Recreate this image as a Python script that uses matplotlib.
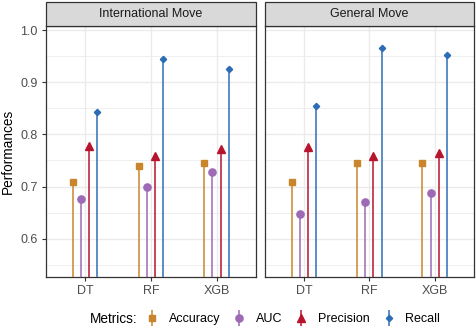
import matplotlib
matplotlib.use("Agg")
import matplotlib.pyplot as plt
from matplotlib.lines import Line2D
from matplotlib.patches import Rectangle
from matplotlib.legend_handler import HandlerTuple
import numpy as np

plt.rcParams['font.family'] = ['Liberation Sans', 'DejaVu Sans']

models = ["DT", "RF", "XGB"]
metrics = ["Accuracy", "AUC", "Precision", "Recall"]
panels = ["International Move", "General Move"]

intl_accuracy = [0.709, 0.739, 0.746]
intl_auc = [0.677, 0.700, 0.728]
intl_precision = [0.777, 0.758, 0.772]
intl_recall = [0.843, 0.945, 0.925]

gen_accuracy = [0.708, 0.745, 0.746]
gen_auc = [0.647, 0.671, 0.688]
gen_precision = [0.776, 0.759, 0.765]
gen_recall = [0.855, 0.965, 0.952]

yticks = [0.6, 0.7, 0.8, 0.9, 1.0]

data = {
    "International Move": [intl_accuracy, intl_auc, intl_precision, intl_recall],
    "General Move": [gen_accuracy, gen_auc, gen_precision, gen_recall],
}

colors = ["#C9852C", "#9D6BB5", "#B7152D", "#2D6DB5"]
markers = ["s", "o", "^", "D"]
msizes = [5.0, 5.2, 6.2, 3.2]
offsets = [-0.1875, -0.0625, 0.0625, 0.1875]

W, H = 477, 331
fig = plt.figure(figsize=(W / 100, H / 100), dpi=100)

panel_px = [(45.7, 256.0), (264.7, 474.0)]
top_px, bot_px = 26.0, 277.0
strip_h = 24.0
ylo, yhi = 0.5266, 1.0077

grid_col = "#EBEBEB"
dark = "#333333"

axes = []
for pi, (name, (x0, x1)) in enumerate(zip(panels, panel_px)):
    ax = fig.add_axes([x0 / W, 1 - bot_px / H, (x1 - x0) / W, (bot_px - top_px) / H])
    axes.append(ax)
    xs = np.arange(len(models))
    for mi, vals in enumerate(data[name]):
        xp = xs + offsets[mi]
        ax.vlines(xp, ylo - 0.1, vals, color=colors[mi], lw=1.1, zorder=3)
        ax.plot(xp, vals, ls="", marker=markers[mi], ms=msizes[mi],
                color=colors[mi], mec=colors[mi], zorder=4)
    ax.set_xlim(-0.6, 2.6)
    ax.set_ylim(ylo, yhi)
    ax.set_xticks(xs)
    ax.set_xticklabels(models)
    ax.set_yticks(yticks)
    ax.set_yticks([0.55, 0.65, 0.75, 0.85, 0.95], minor=True)
    ax.yaxis.grid(True, which="major", color=grid_col, lw=1.0, zorder=0)
    ax.yaxis.grid(True, which="minor", color=grid_col, lw=0.55, zorder=0)
    ax.xaxis.grid(True, which="major", color=grid_col, lw=1.0, zorder=0)
    ax.set_axisbelow(True)
    ax.tick_params(axis="both", which="major", length=3.2, width=0.8, color=dark,
                   labelcolor="#4D4D4D", labelsize=9.0, pad=2.5)
    ax.tick_params(axis="y", which="minor", length=0)
    if pi == 0:
        ax.set_yticklabels([f"{v:.1f}" for v in yticks])
        ax.set_ylabel("Performances", fontsize=9.8, color="black", labelpad=4)
    else:
        ax.tick_params(axis="y", which="both", left=False, labelleft=False)
    for s in ax.spines.values():
        s.set_color(dark)
        s.set_linewidth(0.9)
    # strip
    sh = strip_h / (bot_px - top_px)
    rect = Rectangle((0, 1), 1, sh, transform=ax.transAxes, facecolor="#D9D9D9",
                     edgecolor=dark, lw=0.9, clip_on=False, zorder=5)
    ax.add_patch(rect)
    ax.text(0.5, 1 + sh / 2, name, transform=ax.transAxes, ha="center", va="center",
            fontsize=9.0, color="#1A1A1A", zorder=6)

# legend
handles = []
for mi in range(len(metrics)):
    vline = Line2D([], [], ls="", marker="|", ms=11, mew=1.1, color=colors[mi])
    pt = Line2D([], [], ls="", marker=markers[mi], ms=msizes[mi], color=colors[mi])
    handles.append((vline, pt))
leg = fig.legend(handles, metrics, handler_map={tuple: HandlerTuple(ndivide=1, pad=0)},
                 ncol=4, loc="center", bbox_to_anchor=(293 / W, 1 - 319 / H),
                 frameon=False, fontsize=9.0, handlelength=1.0, handletextpad=0.85,
                 columnspacing=1.0, borderpad=0, borderaxespad=0)
fig.text(90 / W, 1 - 319 / H, "Metrics:", fontsize=9.8, ha="left", va="center")

fig.savefig("out.png", dpi=100)
